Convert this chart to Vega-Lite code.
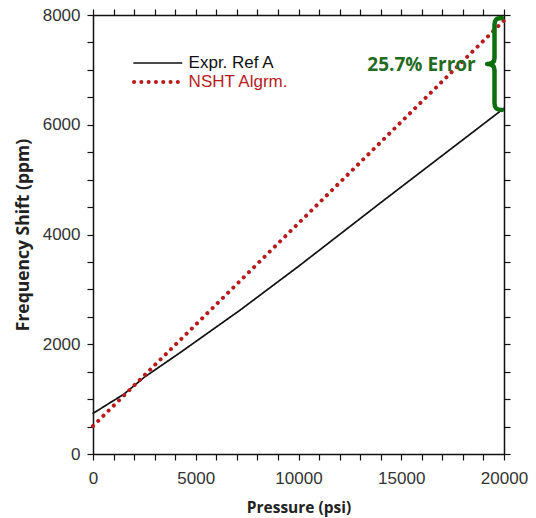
{
  "$schema": "https://vega.github.io/schema/vega-lite/v6.json",
  "width": 411,
  "height": 439,
  "autosize": {"type": "none"},
  "padding": {"left": 93, "top": 15, "right": 32, "bottom": 64},
  "background": "white",
  "config": {
    "view": {"stroke": null},
    "axis": {
      "domainColor": "#111111",
      "domainWidth": 1.5,
      "tickColor": "#111111",
      "tickWidth": 1.2,
      "grid": false,
      "labelFont": "Liberation Sans",
      "labelFontSize": 17,
      "labelColor": "#333333",
      "titleFont": "Open Sans",
      "titleFontSize": 13,
      "titleFontWeight": "bold",
      "titleColor": "#222222",
      "labelOverlap": false,
      "labelFlush": false
    }
  },
  "datasets": {
    "lines": [
      {"series": "Expr. Ref A", "pressure": 0, "shift": 740},
      {"series": "Expr. Ref A", "pressure": 1500, "shift": 1090},
      {"series": "Expr. Ref A", "pressure": 2500, "shift": 1400},
      {"series": "Expr. Ref A", "pressure": 4250, "shift": 1850},
      {"series": "Expr. Ref A", "pressure": 7150, "shift": 2620},
      {"series": "Expr. Ref A", "pressure": 10000, "shift": 3420},
      {"series": "Expr. Ref A", "pressure": 14000, "shift": 4580},
      {"series": "Expr. Ref A", "pressure": 17000, "shift": 5440},
      {"series": "Expr. Ref A", "pressure": 20000, "shift": 6300},
      {"series": "NSHT Algrm.", "pressure": 0, "shift": 510},
      {"series": "NSHT Algrm.", "pressure": 20000, "shift": 7900}
    ],
    "note": [{"label": "25.7% Error"}]
  },
  "layer": [
    {
      "data": {"name": "lines"},
      "mark": {"type": "line", "strokeCap": "round"},
      "encoding": {
        "x": {
          "field": "pressure", "type": "quantitative",
          "scale": {"domain": [0, 20000], "nice": false},
          "axis": {
            "orient": "bottom",
            "values": [0,1000,2000,3000,4000,5000,6000,7000,8000,9000,10000,11000,12000,13000,14000,15000,16000,17000,18000,19000,20000],
            "format": "d",
            "labelExpr": "datum.value % 5000 === 0 ? datum.label : ''",
            "title": "Pressure (psi)",
            "titleFontSize": 15.5,
            "tickSize": 6,
            "labelPadding": 10,
            "titlePadding": 14,
            "encode": {"ticks": {"update": {"y2": {"signal": "datum.value % 5000 === 0 ? -9 : -5"}}}}
          }
        },
        "y": {
          "field": "shift", "type": "quantitative",
          "scale": {"domain": [0, 8000], "nice": false},
          "axis": {
            "orient": "left",
            "values": [0,500,1000,1500,2000,2500,3000,3500,4000,4500,5000,5500,6000,6500,7000,7500,8000],
            "format": "d",
            "labelExpr": "datum.value % 2000 === 0 ? datum.label : ''",
            "title": "Frequency Shift (ppm)",
            "titleFontSize": 17.5,
            "tickSize": 6,
            "labelPadding": 7,
            "titlePadding": 10,
            "encode": {"ticks": {"update": {"x2": {"signal": "datum.value % 2000 === 0 ? 8 : 5"}}}}
          }
        },
        "color": {
          "field": "series", "type": "nominal",
          "scale": {"domain": ["Expr. Ref A", "NSHT Algrm."], "range": ["#111111", "#b71c1c"]},
          "legend": {
            "title": null,
            "orient": "none",
            "legendX": 54.3,
            "legendY": 38.5,
            "padding": 0,
            "symbolType": "M-2.8,0 H2.8",
            "symbolSize": 289,
            "rowPadding": 0,
            "labelOffset": 20.3,
            "labelFont": "Liberation Sans",
            "labelFontSize": 17,
            "encode": {
              "labels": {"update": {"fill": {"signal": "datum.label === 'NSHT Algrm.' ? '#b71c1c' : '#111111'"}}},
              "symbols": {"update": {"fill": {"value": "transparent"}, "strokeWidth": {"signal": "datum.label === 'NSHT Algrm.' ? 3 : 1.5"}, "strokeCap": {"value": "round"}}}
            }
          }
        },
        "strokeDash": {
          "field": "series", "type": "nominal",
          "scale": {"domain": ["Expr. Ref A", "NSHT Algrm."], "range": [[1, 0], [0.1, 7.2]]},
          "legend": {
            "title": null,
            "orient": "none",
            "legendX": 54.3,
            "legendY": 38.5,
            "padding": 0,
            "symbolType": "M-2.8,0 H2.8",
            "symbolSize": 289,
            "rowPadding": 0,
            "labelOffset": 20.3,
            "labelFont": "Liberation Sans",
            "labelFontSize": 17
          }
        },
        "strokeWidth": {
          "field": "series", "type": "nominal",
          "scale": {"domain": ["Expr. Ref A", "NSHT Algrm."], "range": [1.7, 4]},
          "legend": null
        }
      }
    },
    {
      "data": {"name": "lines"},
      "mark": {"type": "line", "opacity": 0},
      "encoding": {
        "x": {
          "field": "pressure", "type": "quantitative",
          "axis": {
            "orient": "top",
            "values": [0,1000,2000,3000,4000,5000,6000,7000,8000,9000,10000,11000,12000,13000,14000,15000,16000,17000,18000,19000,20000],
            "labels": false,
            "title": null,
            "tickSize": 6,
            "encode": {"ticks": {"update": {"y2": {"signal": "datum.value % 5000 === 0 ? 9 : 5"}}}}
          }
        },
        "y": {
          "field": "shift", "type": "quantitative",
          "axis": {
            "orient": "right",
            "values": [0,500,1000,1500,2000,2500,3000,3500,4000,4500,5000,5500,6000,6500,7000,7500,8000],
            "labels": false,
            "title": null,
            "tickSize": 6,
            "encode": {"ticks": {"update": {"x2": {"signal": "datum.value % 2000 === 0 ? -8 : -5"}}}}
          }
        },
        "detail": {"field": "series", "type": "nominal"}
      }
    },
    {
      "data": {"name": "note"},
      "mark": {"type": "text", "font": "Open Sans", "fontSize": 19, "fontWeight": "bold", "color": "#236b23", "align": "center", "baseline": "middle"},
      "encoding": {
        "text": {"field": "label"},
        "x": {"datum": 15985, "type": "quantitative", "axis": null},
        "y": {"datum": 7088, "type": "quantitative", "axis": null}
      }
    },
    {
      "data": {"name": "note"},
      "mark": {
        "type": "point",
        "shape": "M0.16,-1 C0.03,-1 0,-0.95 0,-0.85 L0,-0.13 C0,-0.05 -0.05,0 -0.16,0 C-0.05,0 0,0.05 0,0.13 L0,0.85 C0,0.95 0.03,1 0.16,1",
        "filled": false,
        "stroke": "#0d6e0d",
        "strokeWidth": 4.5,
        "strokeCap": "round",
        "strokeJoin": "round",
        "opacity": 1,
        "size": 8464
      },
      "encoding": {
        "x": {"datum": 19538, "type": "quantitative", "axis": null},
        "y": {"datum": 7107, "type": "quantitative", "axis": null}
      }
    }
  ],
  "resolve": {"axis": {"x": "independent", "y": "independent"}}
}
